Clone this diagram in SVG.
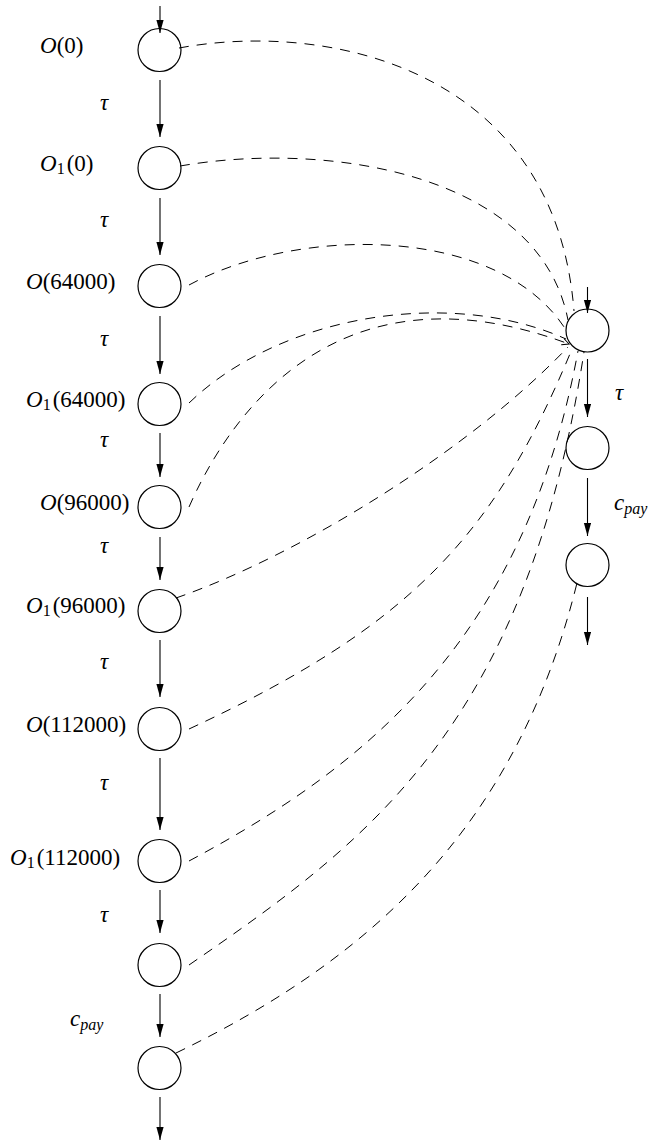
<svg xmlns="http://www.w3.org/2000/svg" width="658" height="1142" viewBox="0 0 658 1142">
<defs>
<marker id="ah" markerUnits="userSpaceOnUse" markerWidth="14" markerHeight="8" refX="13" refY="3.6" orient="auto"><path d="M0,0 L13,3.6 L0,7.2 z" fill="#000"/></marker>
<marker id="oh" markerUnits="userSpaceOnUse" markerWidth="10" markerHeight="10" refX="7" refY="4" orient="auto"><path d="M0,0.5 L7,4 L0,7.5" fill="none" stroke="#000" stroke-width="1"/></marker>
</defs>
<style>
.st{fill:none;stroke:#000;stroke-width:1.2}
.ar{stroke:#000;stroke-width:1.1;fill:none;marker-end:url(#ah)}
.dl{fill:none;stroke:#000;stroke-width:1;stroke-dasharray:10 8}
.lb{font-family:"Liberation Serif",serif;font-size:23px;fill:#000}
.it{font-style:italic}
.sb{font-size:16px}
</style>
<rect width="658" height="1142" fill="#fff"/>
<g id="n0"><circle class="st" cx="159.5" cy="50" r="21.5"/><text class="lb" x="40" y="53"><tspan class="it">O</tspan>(0)</text></g>
<g id="n1"><circle class="st" cx="159.5" cy="168" r="21.5"/><text class="lb" x="40" y="171"><tspan class="it">O</tspan><tspan class="sb" dy="3">1</tspan><tspan dy="-3" dx="2">(0)</tspan></text></g>
<g id="n2"><circle class="st" cx="159.5" cy="286" r="21.5"/><text class="lb" x="26" y="289"><tspan class="it">O</tspan>(64000)</text></g>
<g id="n3"><circle class="st" cx="159.5" cy="404" r="21.5"/><text class="lb" x="26" y="407"><tspan class="it">O</tspan><tspan class="sb" dy="3">1</tspan><tspan dy="-3" dx="2">(64000)</tspan></text></g>
<g id="n4"><circle class="st" cx="159.5" cy="507" r="21.5"/><text class="lb" x="40" y="510"><tspan class="it">O</tspan>(96000)</text></g>
<g id="n5"><circle class="st" cx="159.5" cy="611" r="21.5"/><text class="lb" x="26" y="613"><tspan class="it">O</tspan><tspan class="sb" dy="3">1</tspan><tspan dy="-3" dx="2">(96000)</tspan></text></g>
<g id="n6"><circle class="st" cx="159.5" cy="729" r="21.5"/><text class="lb" x="26" y="732"><tspan class="it">O</tspan>(112000)</text></g>
<g id="n7"><circle class="st" cx="159.5" cy="861" r="21.5"/><text class="lb" x="10" y="865"><tspan class="it">O</tspan><tspan class="sb" dy="3">1</tspan><tspan dy="-3" dx="2">(112000)</tspan></text></g>
<g id="n8"><circle class="st" cx="159.5" cy="965" r="21.5"/></g>
<g id="n9"><circle class="st" cx="159.5" cy="1068" r="21.5"/></g>
<g id="r0"><circle class="st" cx="587.5" cy="330.5" r="21.5"/></g>
<g id="r1"><circle class="st" cx="587.5" cy="448" r="21.5"/></g>
<g id="r2"><circle class="st" cx="587.5" cy="565" r="21.5"/></g>
<g id="edge-labels">
<text class="lb it" x="100" y="110">τ</text>
<text class="lb it" x="100" y="227">τ</text>
<text class="lb it" x="100" y="346">τ</text>
<text class="lb it" x="100" y="447">τ</text>
<text class="lb it" x="100" y="553">τ</text>
<text class="lb it" x="100" y="669">τ</text>
<text class="lb it" x="100" y="790">τ</text>
<text class="lb it" x="100" y="922">τ</text>
<text class="lb it" x="70" y="1026">c<tspan class="sb" dy="4">pay</tspan></text>
<text class="lb it" x="615" y="400">τ</text>
<text class="lb it" x="614" y="510">c<tspan class="sb" dy="4">pay</tspan></text>
</g>
<g id="connectors">
<line class="ar" x1="160" y1="6" x2="160" y2="33"/>
<line class="ar" x1="160" y1="80" x2="160" y2="137"/>
<line class="ar" x1="160" y1="198" x2="160" y2="255"/>
<line class="ar" x1="160" y1="316" x2="160" y2="374"/>
<line class="ar" x1="160" y1="433" x2="160" y2="477"/>
<line class="ar" x1="160" y1="537" x2="160" y2="580"/>
<line class="ar" x1="160" y1="640" x2="160" y2="697"/>
<line class="ar" x1="160" y1="758" x2="160" y2="830"/>
<line class="ar" x1="160" y1="890" x2="160" y2="933"/>
<line class="ar" x1="160" y1="994" x2="160" y2="1037"/>
<line class="ar" x1="160" y1="1097" x2="160" y2="1140"/>
<line class="ar" x1="587.5" y1="287" x2="587.5" y2="313"/>
<line class="ar" x1="587.5" y1="359" x2="587.5" y2="417"/>
<line class="ar" x1="587.5" y1="478" x2="587.5" y2="536"/>
<line class="ar" x1="587.5" y1="597" x2="587.5" y2="645"/>
<path class="dl" d="M179,48 C330,20 555,70 574,311"/>
<path class="dl" d="M180,166 C330,140 540,175 568,320"/>
<path class="dl" d="M189,285 C300,225 500,225 566,330"/>
<path class="dl" d="M189,403 C280,315 450,287 566,339"/>
<path class="dl" d="M189,507 C225,425 330,255 569,344" marker-end="url(#oh)"/>
<path class="dl" d="M176,598 C300,555 470,450 568,347"/>
<path class="dl" d="M189,729 C411,626 495,535 572,349"/>
<path class="dl" d="M189,861 C365,767 525,640 578,351"/>
<path class="dl" d="M189,965 C366,843 526,728 584,352"/>
<path class="dl" d="M176,1053 C373,958 517,825 577,583"/>
</g>
</svg>
